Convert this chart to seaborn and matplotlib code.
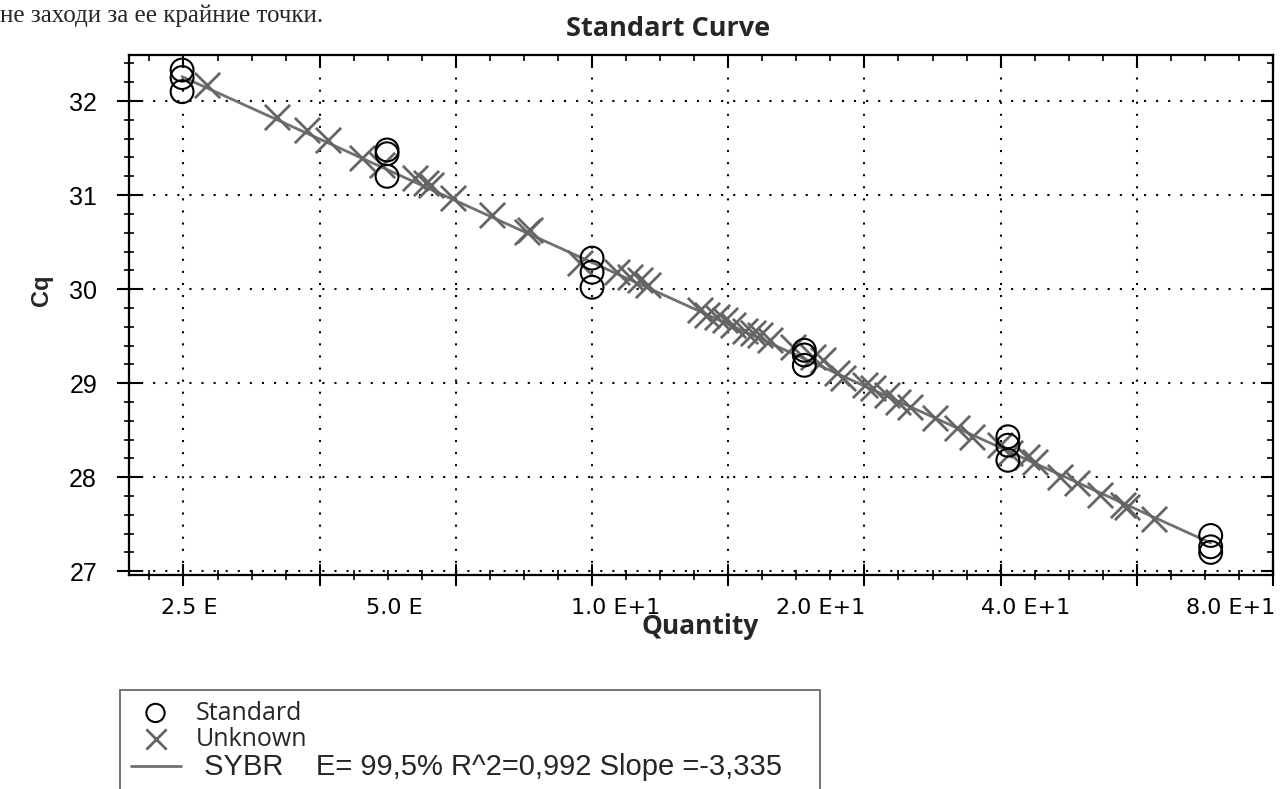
import numpy as np
import pandas as pd
import seaborn as sns
import matplotlib
matplotlib.use("Agg")
import matplotlib.pyplot as plt
from matplotlib.ticker import NullFormatter

# ---------------- data ----------------
std_qty = [2.5, 2.5, 2.5, 5.0, 5.0, 5.0, 10.0, 10.0, 10.0,
           20.5, 20.5, 20.5, 40.8, 40.8, 40.8, 81.0, 81.0, 81.0]
std_cq = [32.33, 32.25, 32.10, 31.48, 31.44, 31.20, 30.33, 30.18, 30.02,
          29.35, 29.30, 29.19, 28.43, 28.34, 28.18, 27.38, 27.26, 27.20]

unk_qty = [2.72, 3.45, 3.81, 4.09, 4.60, 4.91, 5.49, 5.71, 5.81, 6.24,
           7.12, 8.02, 8.10, 9.59, 10.87, 11.36, 11.75, 12.07, 14.40, 14.75,
           15.25, 15.67, 16.10, 16.77, 17.23, 17.64, 18.25, 19.73, 21.11, 21.84,
           22.89, 23.37, 25.17, 25.86, 27.12, 28.15, 29.32, 31.91, 34.38, 36.17,
           39.77, 41.14, 43.57, 44.77, 48.73, 51.6, 55.8, 60.3, 61.1, 66.8]
unk_cq = [32.17, 31.83, 31.69, 31.59, 31.39, 31.32, 31.18, 31.13, 31.11, 30.97,
          30.79, 30.61, 30.63, 30.28, 30.18, 30.13, 30.10, 30.04, 29.78, 29.72,
          29.70, 29.67, 29.62, 29.56, 29.53, 29.51, 29.46, 29.38, 29.28, 29.25,
          29.11, 29.06, 28.98, 28.95, 28.87, 28.80, 28.75, 28.63, 28.52, 28.43,
          28.34, 28.26, 28.21, 28.16, 28.00, 27.94, 27.81, 27.70, 27.68, 27.56]

x_tick_values = [2.5, 5.0, 10.0, 20.0, 40.0, 80.0]
x_tick_labels = ["2.5 E", "5.0 E", "1.0 E+1", "2.0 E+1", "4.0 E+1", "8.0 E+1"]
y_ticks = [27, 28, 29, 30, 31, 32]

title = "Standart Curve"
x_label = "Quantity"
y_label = "Cq"
line_label = " SYBR    E= 99,5% R^2=0,992 Slope =-3,335"
top_text = "не заходи за ее крайние точки."

# ---------------- style ----------------
sns.set_theme(style="white")
plt.rcParams["font.family"] = ["DejaVu Sans"]

W, H = 1280, 789
fig = plt.figure(figsize=(W / 100, H / 100), dpi=100)
L, R, T, B = 129, 1273, 55, 575
ax = fig.add_axes([L / W, 1 - B / H, (R - L) / W, (B - T) / H])
ax.set_xscale("log")

# regression line through the standards
slope, intercept = np.polyfit(np.log10(std_qty), std_cq, 1)
fit_qty = np.array([min(std_qty), max(std_qty)])
fit_cq = slope * np.log10(fit_qty) + intercept

sns.lineplot(x=fit_qty, y=fit_cq, ax=ax, color="#707070", linewidth=2.0,
             label=line_label, zorder=2)
sns.scatterplot(x=unk_qty, y=unk_cq, ax=ax, marker="x", s=330, color="#656565",
                linewidth=2.0, label="Unknown", zorder=3)
sns.scatterplot(x=std_qty, y=std_cq, ax=ax, marker="o", s=270, facecolors="none",
                edgecolor="black", linewidth=1.5, label="Standard", zorder=4)
if ax.get_legend() is not None:
    ax.get_legend().remove()

xlim = (10 ** 0.32, 100.0)
ylim = (26.96, 32.49)
ax.set_xlim(*xlim)
ax.set_ylim(*ylim)

exps = np.round(np.arange(0.35, 2.0001, 0.05), 2)
major_e = np.round(np.arange(0.4, 2.0001, 0.2), 2)
major_x = 10 ** major_e
minor_x = 10 ** np.array([e for e in exps if not np.any(np.isclose(e, major_e))])
minor_y = [v for v in np.round(np.arange(27.0, 32.5, 0.2), 1) if abs(v - round(v)) > 1e-6]

ax.set_xticks(major_x)
ax.set_xticks(minor_x, minor=True)
ax.xaxis.set_major_formatter(NullFormatter())
ax.xaxis.set_minor_formatter(NullFormatter())
ax.set_yticks(y_ticks)
ax.set_yticklabels([str(v) for v in y_ticks])
ax.set_yticks(minor_y, minor=True)

ax.grid(which="major", axis="both", color="black", linestyle=(0, (1, 4.8)), linewidth=1.5)
ax.tick_params(axis="x", which="major", direction="inout", length=16, width=1.5,
               bottom=True, top=False, color="black")
ax.tick_params(axis="x", which="minor", direction="inout", length=7, width=1.2,
               bottom=True, top=False, color="black")
ax.tick_params(axis="y", which="major", direction="inout", length=17, width=1.5,
               left=True, right=False, pad=14.5, color="black")
ax.tick_params(axis="y", which="minor", direction="inout", length=7, width=1.2,
               left=True, right=False, color="black")
for lbl in ax.get_yticklabels():
    lbl.set_fontfamily("Liberation Sans")
    lbl.set_fontsize(18)
    lbl.set_color("black")
for sp in ax.spines.values():
    sp.set_color("black")
    sp.set_linewidth(1.5)

# x tick labels (anchored by their left edge, as in the source software)
for v, lab in zip(x_tick_values, x_tick_labels):
    ax.annotate(lab, xy=(v, 0), xycoords=("data", "axes fraction"),
                xytext=(-15, -16.5), textcoords="offset points",
                ha="left", va="top", fontsize=16, family="DejaVu Sans", color="black")

# inward ticks on top and right
tw = ax.twiny()
tw.set_xscale("log")
tw.set_xlim(*xlim)
tw.set_xticks(major_x)
tw.set_xticks(minor_x, minor=True)
tw.xaxis.set_major_formatter(NullFormatter())
tw.xaxis.set_minor_formatter(NullFormatter())
tw.tick_params(axis="x", which="major", direction="in", length=9, width=1.5, color="black")
tw.tick_params(axis="x", which="minor", direction="in", length=4.5, width=1.2, color="black")
tr = ax.twinx()
tr.set_ylim(*ylim)
tr.set_yticks(y_ticks)
tr.set_yticks(minor_y, minor=True)
tr.yaxis.set_major_formatter(NullFormatter())
tr.tick_params(axis="y", which="major", direction="in", length=9, width=1.5, color="black")
tr.tick_params(axis="y", which="minor", direction="in", length=4.5, width=1.2, color="black")
for a in (tw, tr):
    for sp in a.spines.values():
        sp.set_color("black")
        sp.set_linewidth(1.5)
    a.grid(False)

# labels & title
fig.text(668 / W, 1 - 29 / H, title, ha="center", va="center",
         family="Open Sans", fontweight="bold", fontsize=19.5)
fig.text(700 / W, 1 - 627 / H, x_label, ha="center", va="center",
         family="Open Sans", fontweight="bold", fontsize=19)
fig.text(41 / W, 1 - 290 / H, y_label, ha="center", va="center", rotation=90,
         family="Liberation Sans", fontweight="bold", fontsize=17)
fig.text(0.0, 1 - 22 / H, top_text, ha="left", va="baseline",
         family="Liberation Serif", fontsize=18)

# legend
handles, labels = ax.get_legend_handles_labels()
hmap = dict(zip(labels, handles))
order = ["Standard", "Unknown", line_label]
leg = fig.legend([hmap[k] for k in order], order, loc="upper left",
                 bbox_to_anchor=(120 / W, 0, 700 / W, 1 - 690 / H), mode="expand",
                 borderaxespad=0, frameon=True, fancybox=False, edgecolor="#444444",
                 prop={"family": "Open Sans", "size": 18}, handlelength=2.0,
                 handletextpad=0.6, labelspacing=0.05, borderpad=0.42, markerscale=0.8)
leg.get_frame().set_linewidth(1.3)
sybr_text = leg.get_texts()[2]
sybr_text.set_fontfamily("Liberation Sans")
sybr_text.set_fontsize(21)

fig.savefig("out.png", dpi=100)
